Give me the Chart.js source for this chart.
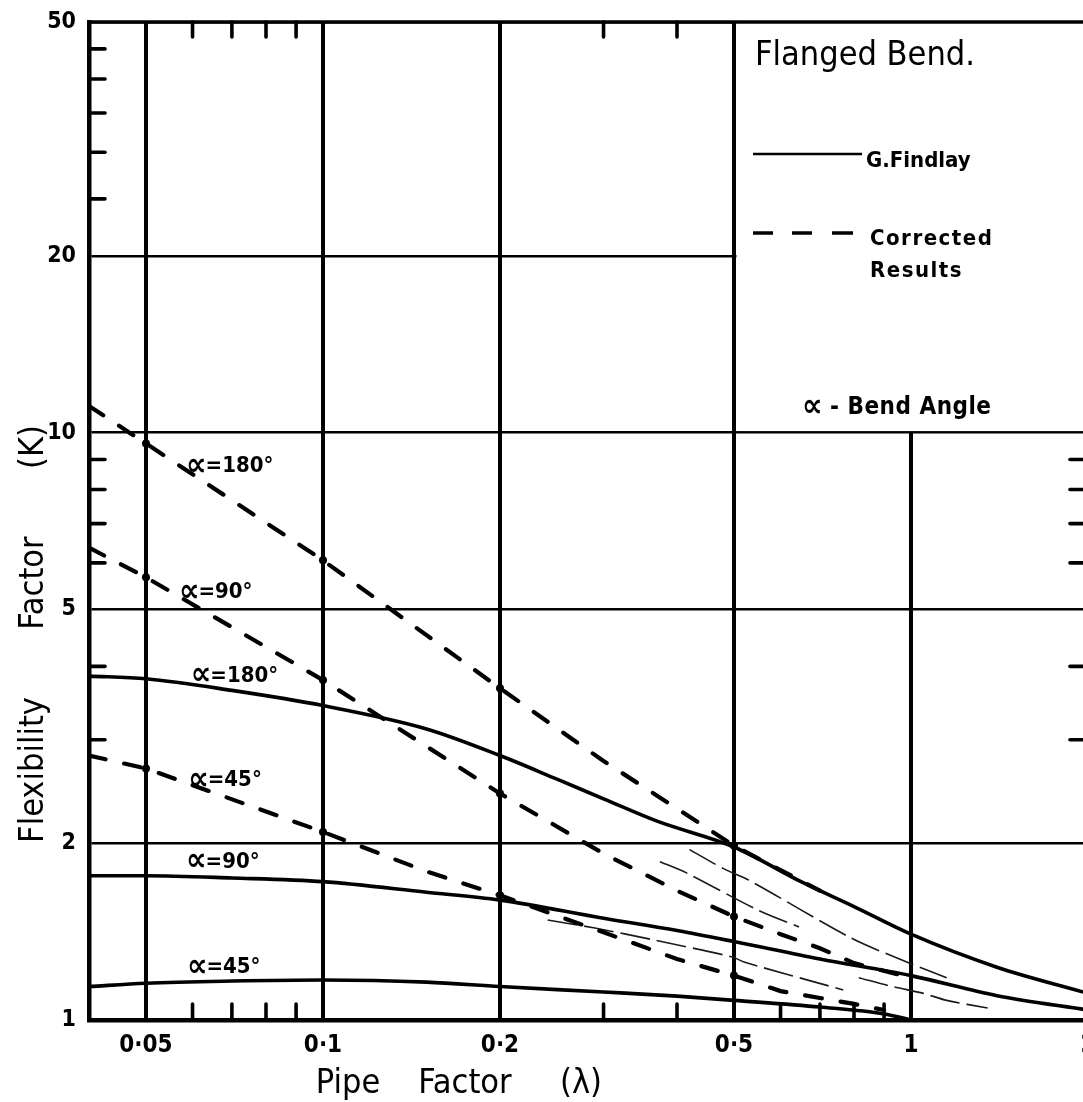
<!DOCTYPE html>
<html><head><meta charset="utf-8">
<script src="https://cdn.jsdelivr.net/npm/chart.js@4.4.1/dist/chart.umd.min.js"></script>
<style>
html,body{margin:0;padding:0;overflow:hidden;background:#fff;width:1083px;height:1102px}
#wrap{position:absolute;left:0;top:0;width:1100px;height:1102px}
canvas{display:block}
</style>
</head><body><div id="wrap"><canvas id="c" width="1100" height="1102"></canvas></div>
<script>
// ---------- axis ticks ----------
const xTicks = [0.05, 0.1, 0.2, 0.5, 1, 2];
const xTickLabels = ['0·05', '0·1', '0·2', '0·5', '1', '2'];
const yTicks = [1, 2, 5, 10, 20, 50];
const yTickLabels = ['1', '2', '5', '10', '20', '50'];
const leftMinorK = [3, 4, 6, 7, 8, 9, 25, 30, 35, 40, 45];
const rightMinorK = [3, 4, 6, 7, 8, 9];
const topMinorLambda = [0.06, 0.07, 0.08, 0.09, 0.3, 0.4];
const bottomMinorLambda = [0.06, 0.07, 0.08, 0.09, 0.3, 0.4, 0.6, 0.7, 0.8, 0.9];

// ---------- G. Findlay (solid) ----------
const findlay180Lambda = [0.04, 0.05, 0.07, 0.1, 0.15, 0.2, 0.25, 0.3, 0.37, 0.5, 0.65, 0.8, 1, 1.4, 2];
const findlay180K      = [3.85, 3.81, 3.64, 3.43, 3.13, 2.82, 2.57, 2.38, 2.18, 1.97, 1.72, 1.56, 1.40, 1.23, 1.11];
const findlay90Lambda  = [0.04, 0.05, 0.07, 0.1, 0.15, 0.2, 0.3, 0.4, 0.5, 0.7, 1, 1.4, 2];
const findlay90K       = [1.76, 1.76, 1.745, 1.72, 1.65, 1.60, 1.49, 1.42, 1.36, 1.27, 1.19, 1.10, 1.04];
const findlay45Lambda  = [0.04, 0.05, 0.07, 0.1, 0.15, 0.2, 0.3, 0.4, 0.5, 0.7, 0.9, 1];
const findlay45K       = [1.14, 1.155, 1.165, 1.17, 1.16, 1.14, 1.116, 1.098, 1.08, 1.052, 1.024, 1.0];

// ---------- Corrected results (dashed) ----------
const corrected180Lambda = [0.04, 0.05, 0.1, 0.2, 0.3, 0.4, 0.5, 0.6, 0.7];
const corrected180K      = [11.1, 9.58, 6.06, 3.67, 2.76, 2.29, 1.98, 1.80, 1.66];
const corrected90Lambda  = [0.04, 0.05, 0.1, 0.2, 0.3, 0.4, 0.5, 0.6, 0.7, 0.8, 1];
const corrected90K       = [6.37, 5.67, 3.79, 2.43, 1.92, 1.66, 1.50, 1.40, 1.325, 1.25, 1.18];
const corrected45Lambda  = [0.04, 0.05, 0.1, 0.15, 0.2, 0.3, 0.4, 0.5, 0.6, 0.7, 0.8, 0.9];
const corrected45K       = [2.82, 2.68, 2.09, 1.79, 1.63, 1.41, 1.27, 1.19, 1.12, 1.09, 1.065, 1.04];

// ---------- faint pencil traces ----------
const faintALambda = [0.42, 0.48, 0.53, 0.79, 0.965, 1.15];
const faintAK      = [1.95, 1.81, 1.73, 1.38, 1.265, 1.18];
const faintBLambda = [0.374, 0.415, 0.548, 0.645];
const faintBK      = [1.86, 1.78, 1.54, 1.44];
const faintCLambda = [0.241, 0.29, 0.366, 0.497, 0.52, 0.767];
const faintCK      = [1.48, 1.434, 1.368, 1.28, 1.255, 1.125];
const faintDLambda = [0.815, 0.93, 1.05, 1.15, 1.35];
const faintDK      = [1.18, 1.14, 1.11, 1.08, 1.048];

const markerLambdas = [0.05, 0.1, 0.2, 0.5];

const FONT = '"DejaVu Sans Condensed","DejaVu Sans",sans-serif';
function pts(ls, ks) { return ls.map((l, i) => ({ x: l, y: ks[i] })); }
function markers(ls) { return ls.map(l => markerLambdas.includes(l) ? 4 : 0); }

const solidStyle = { borderColor: '#000', borderWidth: 3.6, pointRadius: 0, cubicInterpolationMode: 'monotone', fill: false };
const dashStyle = { borderColor: '#000', backgroundColor: '#000', borderWidth: 4.2, borderDash: [17, 19], borderCapStyle: 'round', tension: 0, fill: false, pointBorderWidth: 0 };
const faintStyle = { borderColor: '#1a1a1a', borderWidth: 1.6, borderDash: [30, 7], pointRadius: 0, tension: 0.3, fill: false };

const datasets = [
  Object.assign({ label: 'G.Findlay α=180°', data: pts(findlay180Lambda, findlay180K) }, solidStyle),
  Object.assign({ label: 'G.Findlay α=90°', data: pts(findlay90Lambda, findlay90K) }, solidStyle),
  Object.assign({ label: 'G.Findlay α=45°', data: pts(findlay45Lambda, findlay45K) }, solidStyle),
  Object.assign({ label: 'Corrected α=180°', data: pts(corrected180Lambda, corrected180K), pointRadius: markers(corrected180Lambda) }, dashStyle),
  Object.assign({ label: 'Corrected α=90°', data: pts(corrected90Lambda, corrected90K), pointRadius: markers(corrected90Lambda) }, dashStyle),
  Object.assign({ label: 'Corrected α=45°', data: pts(corrected45Lambda, corrected45K), pointRadius: markers(corrected45Lambda) }, dashStyle),
  Object.assign({ label: 'trace A', data: pts(faintALambda, faintAK) }, faintStyle),
  Object.assign({ label: 'trace B', data: pts(faintBLambda, faintBK) }, faintStyle),
  Object.assign({ label: 'trace C', data: pts(faintCLambda, faintCK) }, faintStyle),
  Object.assign({ label: 'trace D', data: pts(faintDLambda, faintDK) }, faintStyle)
];

const curveLabels = [
  { text: '=180°', x: 0.0585, y: 8.76 },
  { text: '=90°',  x: 0.0569, y: 5.34 },
  { text: '=180°', x: 0.0596, y: 3.85 },
  { text: '=45°',  x: 0.059,  y: 2.56 },
  { text: '=90°',  x: 0.0585, y: 1.857 },
  { text: '=45°',  x: 0.0587, y: 1.23 }
];

function seg(ctx, x1, y1, x2, y2) { ctx.beginPath(); ctx.moveTo(x1, y1); ctx.lineTo(x2, y2); ctx.stroke(); }
function alphaText(ctx, rest, px, py, bigSize, size) {
  ctx.font = 'bold ' + bigSize + 'px ' + FONT;
  ctx.fillText('∝', px, py);
  const w = ctx.measureText('∝').width;
  ctx.font = 'bold ' + size + 'px ' + FONT;
  ctx.fillText(rest, px + w - 1, py);
}

const decor = {
  id: 'decor',
  beforeDatasetsDraw(chart) {
    const { ctx, chartArea: a, scales: { x, y } } = chart;
    ctx.save();
    ctx.fillStyle = '#fff';
    const bx = x.getPixelForValue(0.5) + 2.5;
    const by = y.getPixelForValue(10) - 1.5;
    ctx.fillRect(bx, a.top, a.right + 20 - bx, by - a.top);
    ctx.strokeStyle = '#000';
    ctx.lineWidth = 3.5;
    seg(ctx, a.left, a.top, a.right + 20, a.top);
    ctx.lineWidth = 3.6;
    ctx.lineCap = 'round';
    leftMinorK.forEach(k => { const p = y.getPixelForValue(k); seg(ctx, a.left, p, a.left + 16, p); });
    rightMinorK.forEach(k => { const p = y.getPixelForValue(k); seg(ctx, a.right - 18, p, a.right, p); });
    topMinorLambda.forEach(l => { const p = x.getPixelForValue(l); seg(ctx, p, a.top, p, a.top + 15); });
    bottomMinorLambda.forEach(l => { const p = x.getPixelForValue(l); seg(ctx, p, a.bottom, p, a.bottom - 16); });
    ctx.restore();
  },
  afterDatasetsDraw(chart) {
    const { ctx, scales: { x, y } } = chart;
    ctx.save();
    ctx.fillStyle = '#000';
    ctx.strokeStyle = '#000';
    ctx.textAlign = 'left';
    ctx.textBaseline = 'middle';
    curveLabels.forEach(c => alphaText(ctx, c.text, x.getPixelForValue(c.x), y.getPixelForValue(c.y), 32, 22));
    // legend
    ctx.textBaseline = 'alphabetic';
    ctx.font = '34px ' + FONT;
    ctx.fillText('Flanged Bend.', 755, 65);
    ctx.lineWidth = 2.5;
    ctx.lineCap = 'butt';
    seg(ctx, 753, 154, 862, 154);
    ctx.font = 'bold 22px ' + FONT;
    ctx.fillText('G.Findlay', 866, 167);
    ctx.lineWidth = 3.5;
    [[753, 773], [792, 812], [832, 853]].forEach(d => seg(ctx, d[0], 233, d[1], 233));
    ctx.letterSpacing = '1.5px';
    ctx.fillText('Corrected', 870, 245);
    ctx.fillText('Results', 870, 277);
    ctx.letterSpacing = '0.5px';
    ctx.textBaseline = 'middle';
    alphaText(ctx, ' - Bend Angle', 802, 408, 32, 24);
    ctx.letterSpacing = '0px';
    ctx.textBaseline = 'alphabetic';
    // axis titles
    ctx.font = '34px ' + FONT;
    ctx.textAlign = 'center';
    [['Pipe', 348], ['Factor', 465], ['(λ)', 581]].forEach(w => ctx.fillText(w[0], w[1], 1093));
    [['Flexibility', 770], ['Factor', 583], ['(K)', 447]].forEach(w => {
      ctx.save();
      ctx.translate(43, w[1]);
      ctx.rotate(-Math.PI / 2);
      ctx.fillText(w[0], 0, 0);
      ctx.restore();
    });
    ctx.restore();
  }
};

new Chart(document.getElementById('c'), {
  type: 'line',
  data: { datasets },
  options: {
    responsive: false,
    animation: false,
    devicePixelRatio: 1,
    layout: { padding: { left: 0, right: 12, top: 22, bottom: 0 } },
    plugins: { legend: { display: false }, tooltip: { enabled: false }, title: { display: false } },
    scales: {
      x: {
        type: 'logarithmic', min: 0.04, max: 2,
        afterBuildTicks: s => { s.ticks = xTicks.map(v => ({ value: v })); },
        afterFit: s => { s.height = 82; s.paddingLeft = 0; s.paddingRight = 0; },
        ticks: { callback: (v, i) => xTickLabels[i], color: '#000', padding: 11, autoSkip: false, maxRotation: 0, minRotation: 0,
                 font: { family: FONT, size: 24, weight: 'bold' } },
        grid: { color: '#000', lineWidth: 4, drawTicks: false },
        border: { display: true, color: '#000', width: 4.5 }
      },
      y: {
        type: 'logarithmic', min: 1, max: 50,
        afterBuildTicks: s => { s.ticks = yTicks.map(v => ({ value: v })); },
        afterFit: s => { s.width = 89; s.paddingTop = 0; s.paddingBottom = 0; },
        ticks: { callback: (v, i) => yTickLabels[i], color: '#000', padding: 13, autoSkip: false,
                 font: { family: FONT, size: 23, weight: 'bold' } },
        grid: { color: '#000', lineWidth: 2.5, drawTicks: false },
        border: { display: true, color: '#000', width: 4.5 }
      }
    }
  },
  plugins: [decor]
});
</script>
</body></html>
